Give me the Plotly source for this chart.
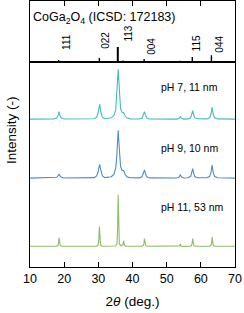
import plotly.graph_objects as go

# ---- data ----
x_ph7 = [10, 17.0, 17.8, 18.2, 18.5, 18.8, 19.2, 20.0, 28.8, 29.5, 29.9, 30.1, 30.4, 30.6, 30.8, 31.2, 31.9,
         33.8, 34.6, 35.1, 35.4, 35.6, 35.8, 36.0, 36.2, 36.5, 36.9, 37.4, 37.8, 38.4, 39.3,
         42.0, 42.8, 43.2, 43.5, 43.8, 44.2, 45.0, 53.0, 53.6, 54.0, 54.4, 55.0,
         56.2, 57.0, 57.3, 57.6, 57.9, 58.2, 59.0, 61.8, 62.6, 63.0, 63.3, 63.6, 64.0, 64.9, 70]
y_ph7 = [0.2, 0.3, 1.2, 3.5, 7.6, 3.5, 1.2, 0.3, 0.6, 2.2, 6.0, 10.5, 15.0, 10.5, 6.0, 2.2, 0.6,
         1.5, 4.0, 10.0, 22.0, 38.0, 50.0, 38.0, 22.0, 11.0, 7.0, 6.6, 3.5, 1.2, 0.4,
         0.3, 1.3, 4.0, 7.6, 4.0, 1.3, 0.3, 0.2, 1.0, 2.6, 1.0, 0.2,
         0.4, 1.5, 4.5, 8.6, 4.5, 1.6, 0.5, 0.4, 1.8, 5.5, 12.0, 5.5, 1.8, 0.4, 0.2]

x_ph9 = [10, 17.0, 17.8, 18.2, 18.5, 18.8, 19.2, 20.0, 28.8, 29.5, 29.9, 30.1, 30.4, 30.6, 30.8, 31.2, 31.9,
         33.8, 34.6, 35.1, 35.4, 35.6, 35.8, 36.0, 36.2, 36.5, 36.9, 37.4, 37.8, 38.4, 39.3,
         42.0, 42.8, 43.2, 43.5, 43.8, 44.2, 45.0, 53.0, 53.6, 54.0, 54.4, 55.0,
         56.2, 57.0, 57.3, 57.6, 57.9, 58.2, 59.0, 61.8, 62.6, 63.0, 63.3, 63.6, 64.0, 64.9, 70]
y_ph9 = [0.2, 0.3, 1.0, 2.3, 4.3, 2.3, 1.0, 0.3, 0.7, 2.4, 6.0, 10.0, 14.0, 10.0, 6.0, 2.4, 0.7,
         1.6, 4.2, 10.5, 22.0, 37.0, 48.0, 37.0, 22.0, 12.0, 8.0, 7.7, 4.0, 1.4, 0.5,
         0.4, 1.5, 4.5, 8.3, 4.5, 1.5, 0.4, 0.3, 1.3, 3.3, 1.3, 0.3,
         0.5, 1.8, 5.2, 9.7, 5.2, 1.8, 0.5, 0.5, 2.0, 6.2, 13.3, 6.2, 2.0, 0.5, 0.2]

x_ph11 = [10, 17.7, 18.15, 18.35, 18.5, 18.65, 18.85, 19.3, 29.5, 29.95, 30.15, 30.3, 30.45, 30.65, 31.1,
          35.0, 35.45, 35.65, 35.8, 35.95, 36.15, 36.7, 37.1, 37.25, 37.4, 37.55, 37.9,
          42.7, 43.15, 43.35, 43.5, 43.65, 43.85, 44.3, 53.4, 53.85, 54.0, 54.15, 54.6,
          56.8, 57.25, 57.45, 57.6, 57.75, 57.95, 58.4, 62.5, 62.95, 63.15, 63.3, 63.45, 63.65, 64.1, 70]
y_ph11 = [0.2, 0.2, 1.0, 3.2, 9.0, 3.2, 1.0, 0.2, 0.3, 1.6, 7.0, 20.0, 7.0, 1.6, 0.3,
          0.5, 2.5, 18.0, 51.7, 18.0, 2.5, 0.6, 1.2, 2.1, 5.7, 2.1, 0.4,
          0.2, 1.0, 2.9, 8.0, 2.9, 1.0, 0.2, 0.1, 0.6, 2.7, 0.6, 0.1,
          0.2, 1.0, 2.9, 8.0, 2.9, 1.0, 0.2, 0.2, 1.1, 3.4, 9.3, 3.4, 1.1, 0.2, 0.2]

series_names = ["pH 7, 11 nm", "pH 9, 10 nm", "pH 11, 53 nm"]
series_offsets = [147.7, 88.7, 20.5]
series_colors = ["#45bdb5", "#4d8fc2", "#8fba66"]

ref_pos = [18.4, 30.3, 35.7, 37.2, 43.4, 53.9, 57.5, 63.1]
ref_int = [13, 27, 100, 10, 20, 9, 33, 45]
ref_hkl = ["111", "022", "113", "", "004", "", "115", "044"]

xtick_vals = [10, 20, 30, 40, 50, 60, 70]

# ---- figure ----
fig = go.Figure()
FONT = "Liberation Sans, Arial, Helvetica, sans-serif"

for xs, ys, name, off, col in zip([x_ph7, x_ph9, x_ph11], [y_ph7, y_ph9, y_ph11],
                                  series_names, series_offsets, series_colors):
    fig.add_trace(go.Scatter(x=xs, y=[v + off for v in ys], mode="lines",
                             line=dict(color=col, width=1.1), name=name,
                             xaxis="x", yaxis="y", showlegend=False))

# reference sticks
for p, inten in zip(ref_pos, ref_int):
    fig.add_trace(go.Scatter(x=[p, p], y=[0, inten], mode="lines",
                             line=dict(color="black", width=2.0 if inten >= 100 else 1.4),
                             xaxis="x2", yaxis="y2", showlegend=False, hoverinfo="skip"))

split = 205 / 266

fig.update_layout(
    width=244, height=313,
    margin=dict(l=30, r=9, t=1, b=46),
    paper_bgcolor="white", plot_bgcolor="white",
    font=dict(family=FONT, size=12, color="black"),
    xaxis=dict(domain=[0, 1], range=[10, 70], tickvals=xtick_vals, ticks="inside", ticklen=5,
               tickwidth=1, tickcolor="black", showline=True, linecolor="black", linewidth=1,
               mirror=True, showgrid=False, zeroline=False, anchor="y",
               tickfont=dict(size=12.5),
               title=dict(text="2<i>θ</i> (deg.)", font=dict(size=13.5), standoff=11)),
    yaxis=dict(domain=[0, split], range=[0, 205], showticklabels=False, ticks="",
               showline=True, linecolor="black", linewidth=1, mirror=True,
               showgrid=False, zeroline=False, anchor="x"),
    xaxis2=dict(domain=[0, 1], range=[10, 70], tickvals=xtick_vals, ticks="inside", ticklen=5,
                tickcolor="black", showticklabels=False, side="top", showline=True,
                linecolor="black", linewidth=1, mirror=True, showgrid=False, zeroline=False,
                anchor="y2", matches="x"),
    yaxis2=dict(domain=[split, 1], range=[0, 407], showticklabels=False, ticks="",
                showline=True, linecolor="black", linewidth=1, mirror=True,
                showgrid=False, zeroline=False, anchor="x2"),
)

annotations = []
# hkl labels (rotated), placed a little to the right of each stick
label_y = {"111": 133, "022": 147, "113": 190, "004": 103, "115": 127, "044": 122}
label_dx = {"111": 2.1, "022": 1.9, "113": 3.0, "004": 2.1, "115": 1.5, "044": 2.5}
for p, hkl in zip(ref_pos, ref_hkl):
    if not hkl:
        continue
    annotations.append(dict(x=p + label_dx[hkl], y=label_y[hkl], xref="x2", yref="y2",
                            text=hkl, textangle=-90, showarrow=False,
                            font=dict(size=10, family=FONT)))
annotations.append(dict(x=10.3, y=293, xref="x2", yref="y2", xanchor="left",
                        text="CoGa<sub>2</sub>O<sub>4</sub> (ICSD: 172183)", showarrow=False,
                        font=dict(size=12.5, family=FONT)))
label_ys = [180, 119, 60]
for name, ly in zip(series_names, label_ys):
    annotations.append(dict(x=47.7, y=ly, xref="x", yref="y", xanchor="left", text=name,
                            showarrow=False, font=dict(size=10.5, family=FONT)))
annotations.append(dict(x=0, y=(313 - 130 - 46) / 266, xref="paper", yref="paper",
                        xanchor="center", xshift=-19, text="Intensity (-)", textangle=-90,
                        showarrow=False, font=dict(size=13.5, family=FONT)))
fig.update_layout(annotations=annotations)

fig.write_html("out.html", config={"displayModeBar": False},
               post_script="document.body.style.margin='0';")
